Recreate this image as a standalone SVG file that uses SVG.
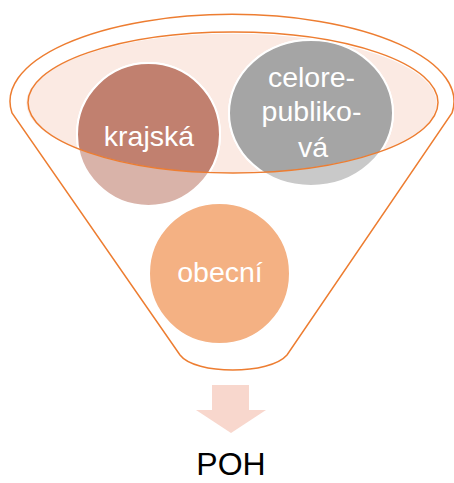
<svg xmlns="http://www.w3.org/2000/svg" width="454" height="483" viewBox="0 0 454 483">
  <style>
    .lbl { font-family: "Liberation Sans", Arial, sans-serif; font-size: 28.5px; fill: #ffffff; text-anchor: middle; }
    .poh { font-family: "Liberation Sans", Arial, sans-serif; font-size: 32px; fill: #000000; text-anchor: middle; }
    .orange { fill: none; stroke: #ED7D31; stroke-width: 1.5; }
  </style>
  <defs>
    <clipPath id="inner">
      <ellipse cx="233" cy="102.5" rx="205" ry="70.5"/>
    </clipPath>
  </defs>
  <rect width="454" height="483" fill="#ffffff"/>
  <g id="funnel">
    <path class="orange" d="M12,113 A222,87 0 1 1 452,113 L287,355 C270,375 195,375 180,355 Z"/>
  </g>
  <g id="inner-ellipse">
    <ellipse cx="231.5" cy="103" rx="206" ry="70" fill="#FBEAE3" stroke="#ffffff" stroke-width="1.5"/>
  </g>
  <g id="node-krajska">
    <circle cx="148.5" cy="134.5" r="71.5" fill="#D9B3A9" stroke="#ffffff" stroke-width="2"/>
    <circle cx="148.5" cy="134.5" r="71.5" fill="#C1806F" stroke="#ffffff" stroke-width="2" clip-path="url(#inner)"/>
    <text class="lbl" x="149" y="146">krajská</text>
  </g>
  <g id="node-celorepublikova">
    <ellipse cx="311" cy="113" rx="82" ry="73" fill="#C9C9C9" stroke="#ffffff" stroke-width="2"/>
    <ellipse cx="311" cy="113" rx="82" ry="73" fill="#A5A5A5" stroke="#ffffff" stroke-width="2" clip-path="url(#inner)"/>
    <text class="lbl" x="311.5" y="87">celore-</text>
    <text class="lbl" x="311.5" y="121">publiko-</text>
    <text class="lbl" x="313" y="157">vá</text>
  </g>
  <g id="inner-ellipse-outline">
    <ellipse class="orange" cx="233" cy="102.5" rx="205" ry="70.5"/>
  </g>
  <g id="node-obecni">
    <circle cx="219.5" cy="273.5" r="70.5" fill="#F4B183" stroke="#ffffff" stroke-width="2"/>
    <text class="lbl" x="220" y="282">obecní</text>
  </g>
  <g id="connectors">
    <polygon points="212,385 249,385 249,410 266,410 231,433 196,410 212,410" fill="#F8D7CD"/>
  </g>
  <g id="node-poh">
    <text class="poh" x="231" y="475">POH</text>
  </g>
</svg>
